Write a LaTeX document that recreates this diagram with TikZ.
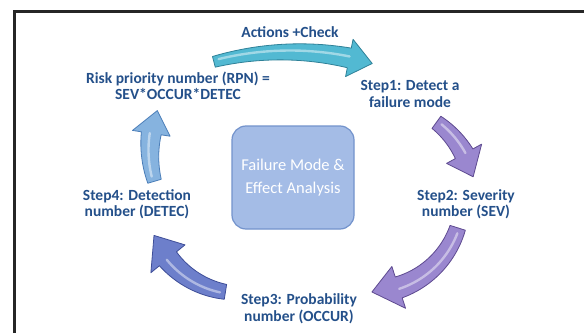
\documentclass[tikz,border=0pt]{standalone}
\usepackage{fontspec}
\setmainfont{Carlito}
\usetikzlibrary{calc}
\definecolor{lbl}{HTML}{24508A}
\definecolor{boxfill}{HTML}{A4BCE6}
\definecolor{boxedge}{HTML}{7393CC}
\definecolor{tealA}{HTML}{52B9D2}
\definecolor{tealE}{HTML}{2F8198}
\definecolor{purA}{HTML}{9A87CF}
\definecolor{purE}{HTML}{5E4A90}
\definecolor{bpA}{HTML}{6D7FCB}
\definecolor{bpE}{HTML}{3E4E98}
\definecolor{lbA}{HTML}{86B3DF}
\definecolor{lbE}{HTML}{4A7DB8}
% #1 style, #2 cx, #3 cy, #4 r, #5 a1, #6 a2, #7 w1, #8 w2, #9 head width
\newcommand\carrow[9][]{%
  \pgfmathsetmacro\ahd{#6+sign(#5-#6)*0.62*#9/#4*57.2958}%
  \filldraw[#1] plot[domain=#5:\ahd,samples=40,variable=\t]
    ({#2+(#4+(#7+(#8-#7)*(\t-#5)/(\ahd-#5))/2)*cos(\t)},{#3+(#4+(#7+(#8-#7)*(\t-#5)/(\ahd-#5))/2)*sin(\t)})
    -- ({#2+(#4+#9/2)*cos(\ahd)},{#3+(#4+#9/2)*sin(\ahd)})
    -- ({#2+#4*cos(#6)},{#3+#4*sin(#6)})
    -- ({#2+(#4-#9/2)*cos(\ahd)},{#3+(#4-#9/2)*sin(\ahd)})
    -- plot[domain=\ahd:#5,samples=40,variable=\t]
    ({#2+(#4-(#7+(#8-#7)*(\t-#5)/(\ahd-#5))/2)*cos(\t)},{#3+(#4-(#7+(#8-#7)*(\t-#5)/(\ahd-#5))/2)*sin(\t)})
    -- cycle;
  \draw[white,opacity=0.45,line width=2.4pt,line cap=round] plot[domain=#5+sign(#6-#5)*(3*100/#4):\ahd,samples=30,variable=\t]
    ({#2+(#4+1.5)*cos(\t)},{#3+(#4+1.5)*sin(\t)});
}
\tikzset{
  lab/.style={text=lbl,font=\fontsize{15.5}{16.5}\selectfont\bfseries,align=center,inner sep=0pt},
  arrowbase/.style={line width=0.8pt,line join=round}
}
\begin{document}
\begin{tikzpicture}[x=1pt,y=1pt]
\useasboundingbox (0,0) rectangle (584,333);
\fill[white] (0,0) rectangle (584,333);
% frame (top and left only visible)
\coordinate (fbl) at (14.5,0);
\coordinate (ftl) at (14.5,321);
\coordinate (ftr) at (584,321);
\draw[line width=3pt,black!85] (fbl) -- (ftl) -- (ftr);
% centre box
\node[draw=boxedge,fill=boxfill,line width=1.2pt,rounded corners=14pt,minimum width=122pt,minimum height=103pt,
      text=white,font=\fontsize{16.5}{23.5}\selectfont,align=center] (core) at (293,155.5) {Failure Mode \&\\Effect Analysis};
% labels
\node[lab] (act) at (290,301) {Actions +Check};
\node[lab] (rpn) at (178,247) {Risk priority number (RPN) =\\SEV*OCCUR*DETEC};
\node[lab] (s1) at (410,239) {Step1: Detect a\\failure mode};
\node[lab] (s2) at (466,129) {Step2: Severity\\number (SEV)};
\node[lab] (s3) at (299,24.5) {Step3: Probability\\number (OCCUR)};
\node[lab] (s4) at (137,129) {Step4: Detection\\number (DETEC)};
% arrows
\carrow[arrowbase,fill=tealA,draw=tealE]{290}{-19}{300}{104.7}{74.1}{11}{20}{38}
\carrow[arrowbase,fill=purA,draw=purE]{380}{133}{96}{54}{14}{15}{20}{40}
\carrow[arrowbase,fill=purA,draw=purE]{370}{133}{92}{-17.6}{-88.8}{16}{22}{44}
\carrow[arrowbase,fill=bpA,draw=bpE]{240}{133}{93}{261}{202.4}{15}{22}{44}
\carrow[arrowbase,fill=lbA,draw=lbE]{260}{183}{110}{196.5}{159}{14}{20}{38}
\end{tikzpicture}
\end{document}
